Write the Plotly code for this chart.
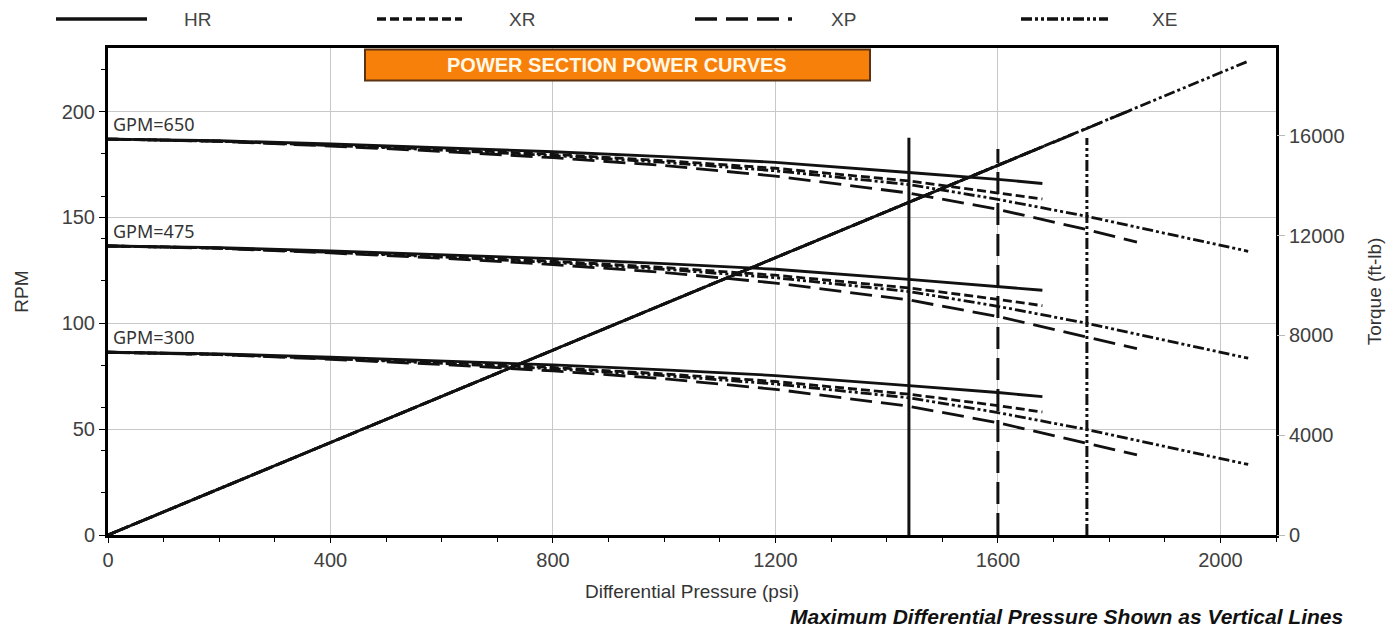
import plotly.graph_objects as go

# ---------------- data ----------------
motors = ["HR", "XR", "XP", "XE"]

# RPM vs differential pressure (psi)
p_hr = [0, 200, 400, 600, 800, 1000, 1200, 1440, 1600, 1680]
hr_650 = [187, 186.2, 184.7, 183, 181, 178.7, 176, 171.2, 168, 166]
hr_475 = [136.5, 135.7, 134.2, 132.5, 130.5, 128.2, 125.5, 120.7, 117.5, 115.6]
hr_300 = [86.3, 85.5, 84, 82.3, 80.3, 78, 75.3, 70.5, 67.3, 65.3]

p_xr = [0, 200, 400, 600, 800, 1000, 1200, 1440, 1600, 1680]
xr_650 = [187, 186, 184.2, 182.2, 179.8, 176.8, 173.2, 167.2, 161.5, 158.7]
xr_475 = [136.5, 135.5, 133.7, 131.7, 129.3, 126.3, 122.7, 116.7, 111.3, 108.3]
xr_300 = [86.3, 85.3, 83.5, 81.5, 79.1, 76.1, 72.5, 66.5, 61.1, 58.1]

p_xp = [0, 200, 400, 600, 800, 1000, 1200, 1440, 1600, 1760, 1850]
xp_650 = [187, 185.9, 183.7, 181.2, 178.2, 174.5, 169.5, 161.5, 153.8, 144.2, 138.3]
xp_475 = [136.5, 135.4, 133.2, 130.7, 127.7, 124, 119, 111, 103.2, 93.7, 88]
xp_300 = [86.3, 85.2, 83, 80.5, 77.5, 73.8, 68.8, 60.8, 53, 43.5, 37.8]

p_xe = [0, 200, 400, 600, 800, 1000, 1200, 1440, 1600, 1760, 1900, 2050]
xe_650 = [187, 186, 184, 181.8, 179.2, 176, 172, 165.5, 158.5, 150.5, 142.5, 134]
xe_475 = [136.5, 135.5, 133.5, 131.3, 128.7, 125.5, 121.5, 115, 108, 100, 92, 83.5]
xe_300 = [86.3, 85.3, 83.3, 81.1, 78.5, 75.3, 71.3, 64.8, 57.8, 49.8, 41.8, 33.3]

# torque (ft-lb) vs differential pressure
torque_p = {"HR": [0, 1680], "XR": [0, 1680], "XP": [0, 1850], "XE": [0, 2052]}
torque_v = {"HR": [0, 15560], "XR": [0, 15560], "XP": [0, 17130], "XE": [0, 19010]}

# maximum differential pressure (vertical lines)
max_dp_motor = ["HR", "XP", "XE"]
max_dp = [1440, 1600, 1760]
max_dp_top = [187.6, 182.3, 187.5]

gpm_labels = ["GPM=650", "GPM=475", "GPM=300"]
gpm_label_y = [194, 143.5, 93.5]

x_ticks = [0, 400, 800, 1200, 1600, 2000]
y_ticks = [0, 50, 100, 150, 200]
y2_ticks = [0, 4000, 8000, 12000, 16000]

# ---------------- styles ----------------
dash = {"HR": "solid", "XR": "9px,4px", "XP": "22px,9px", "XE": "11px,3px,3px,3px,3px,3px"}
ink = "#111111"
curves = {
    "HR": (p_hr, [hr_650, hr_475, hr_300]),
    "XR": (p_xr, [xr_650, xr_475, xr_300]),
    "XP": (p_xp, [xp_650, xp_475, xp_300]),
    "XE": (p_xe, [xe_650, xe_475, xe_300]),
}

fig = go.Figure()

draw_order = ["XE", "XP", "XR", "HR"]
for m in draw_order:
    fig.add_trace(go.Scatter(x=torque_p[m], y=torque_v[m], yaxis="y2", mode="lines",
                             line=dict(color=ink, width=2.8, dash=dash[m]),
                             showlegend=False, hoverinfo="skip"))
for m in draw_order:
    px, sets = curves[m]
    for ys in sets:
        fig.add_trace(go.Scatter(x=px, y=ys, mode="lines",
                                 line=dict(color=ink, width=2.8, dash=dash[m]),
                                 showlegend=False, name=m))
for m, xv, top in zip(max_dp_motor, max_dp, max_dp_top):
    fig.add_trace(go.Scatter(x=[xv, xv], y=[0, top], mode="lines",
                             line=dict(color=ink, width=3, dash=dash[m]),
                             showlegend=False, hoverinfo="skip"))

# ---------------- layout helpers ----------------
L, R, T, B = 108, 1276, 48, 535
def fx(px):
    return (px - L) / (R - L)
def fy(py):
    return (B - py) / (B - T)

shapes = []
annotations = []

# custom legend across the top
legend_pos = {"HR": (56, 147, 182), "XR": (377, 462, 507), "XP": (695, 792, 829), "XE": (1021, 1108, 1150)}
for m in motors:
    x0, x1, xt = legend_pos[m]
    shapes.append(dict(type="line", xref="paper", yref="paper",
                       x0=fx(x0), x1=fx(x1), y0=fy(19), y1=fy(19),
                       line=dict(color=ink, width=3.5, dash=dash[m])))
    annotations.append(dict(text=m, xref="paper", yref="paper", x=fx(xt), y=fy(19),
                            xanchor="left", yanchor="middle", showarrow=False,
                            font=dict(family="Liberation Sans Narrow, Liberation Sans, Arial", size=19, color="#444444")))

# orange title box
shapes.append(dict(type="rect", xref="paper", yref="paper",
                   x0=fx(365), x1=fx(870), y0=fy(80.5), y1=fy(49.5),
                   fillcolor="#F7800A", line=dict(color="#5C3310", width=2), layer="above"))
annotations.append(dict(text="<b>POWER SECTION POWER CURVES</b>", xref="paper", yref="paper",
                        x=fx(617), y=fy(65), xanchor="center", yanchor="middle", showarrow=False,
                        font=dict(family="Liberation Sans, Arial", size=20, color="#FFF8E8")))

# GPM labels
for t, yv in zip(gpm_labels, gpm_label_y):
    annotations.append(dict(text=t, x=6, y=yv, xref="x", yref="y", xanchor="left", yanchor="middle",
                            showarrow=False,
                            font=dict(family="Noto Sans, Open Sans", size=18, color="#333333")))

# bottom note
annotations.append(dict(text="<b><i>Maximum Differential Pressure Shown as Vertical Lines</i></b>",
                        xref="paper", yref="paper", x=fx(1345), y=fy(616), xanchor="right", yanchor="middle",
                        showarrow=False,
                        font=dict(family="Liberation Sans, Arial", size=21, color="#111111")))

tick_font = dict(family="Liberation Sans, Arial", size=20, color="#404040")
title_font = dict(family="Liberation Sans, Arial", size=19, color="#333333")

fig.update_layout(
    width=1398, height=627,
    margin=dict(l=L, r=1398 - R, t=T, b=627 - B),
    paper_bgcolor="white", plot_bgcolor="white",
    shapes=shapes, annotations=annotations,
    showlegend=False,
    xaxis=dict(range=[0, 2100], tickvals=x_ticks, showgrid=True, gridcolor="#C8C8C8", gridwidth=1,
               zeroline=False, showline=True, linecolor="#000000", linewidth=3, mirror=True,
               ticks="outside", ticklen=5, tickcolor="#000000", tickfont=tick_font,
               minor=dict(dtick=100, ticks="outside", ticklen=4, tickcolor="#000000", showgrid=False),
               title=dict(text="Differential Pressure (psi)", font=title_font, standoff=15)),
    yaxis=dict(range=[0, 230], tickvals=y_ticks, showgrid=True, gridcolor="#C8C8C8", gridwidth=1,
               zeroline=False, showline=True, linecolor="#000000", linewidth=3, mirror=True,
               ticks="outside", ticklen=6, tickcolor="#000000", tickfont=tick_font,
               minor=dict(dtick=20, ticks="outside", ticklen=4, tickcolor="#000000", showgrid=False),
               title=dict(text="RPM", font=title_font, standoff=28)),
    yaxis2=dict(range=[0, 19520], tickvals=y2_ticks, tickformat="d", overlaying="y", side="right",
                showgrid=False, zeroline=False, showline=False, ticks="outside", ticklen=8,
                tickcolor="#BBBBBB", tickfont=tick_font,
                title=dict(text="Torque (ft-lb)", font=title_font, standoff=24)),
)

fig.write_html("out.html", config={"displayModeBar": False},
               post_script="document.body.style.margin='0';document.body.style.overflow='hidden';")
